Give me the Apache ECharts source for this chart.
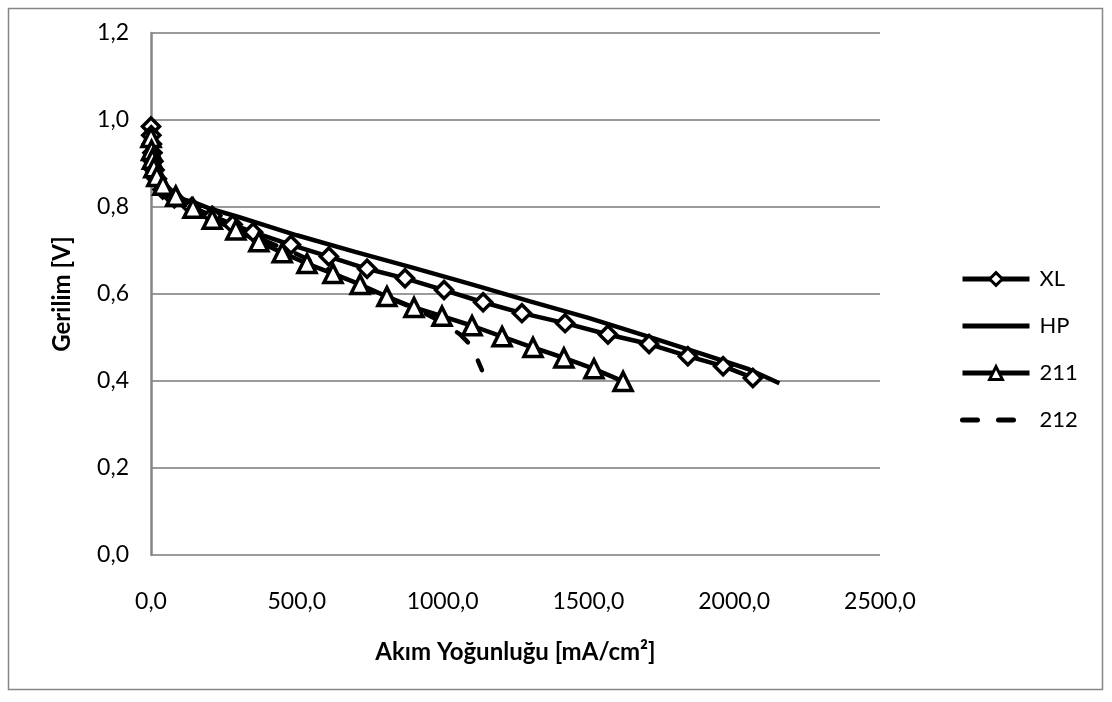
<!DOCTYPE html>
<html>
<head>
<meta charset="utf-8">
<script src="https://cdn.jsdelivr.net/npm/echarts@6/dist/echarts.min.js"></script>
<style>
    html, body { margin: 0; padding: 0; background: #fff; }
    #chart { width: 1112px; height: 702px; }
</style>
</head>
<body>
<div id="chart"></div>
<script>
/* polarizasyon egrileri - veriler */
var seriesNames = ['XL', 'HP', '211', '212'];

var xlCurrent = [0, 1, 3, 5, 8, 12, 20, 40, 80, 140, 210, 280, 350, 480, 610, 741, 871, 1005, 1139, 1272, 1420, 1567, 1708, 1841, 1962, 2064];
var xlVoltage = [0.985, 0.965, 0.945, 0.925, 0.905, 0.885, 0.865, 0.84, 0.82, 0.80, 0.78, 0.76, 0.742, 0.713, 0.686, 0.658, 0.636, 0.609, 0.581, 0.556, 0.533, 0.507, 0.485, 0.457, 0.434, 0.407];

var hpCurrent = [0, 2, 5, 10, 20, 40, 70, 100, 150, 200, 300, 400, 500, 700, 900, 1100, 1300, 1500, 1700, 1900, 2050, 2155];
var hpVoltage = [0.985, 0.95, 0.92, 0.89, 0.865, 0.845, 0.83, 0.82, 0.81, 0.797, 0.777, 0.756, 0.735, 0.697, 0.66, 0.622, 0.583, 0.545, 0.503, 0.46, 0.427, 0.395];

var c211Current = [0, 2, 5, 10, 20, 41, 85, 144, 210, 291, 370, 450, 535, 624, 717, 809, 902, 998, 1101, 1204, 1310, 1416, 1519, 1619];
var c211Voltage = [0.96, 0.93, 0.91, 0.89, 0.87, 0.85, 0.825, 0.797, 0.772, 0.747, 0.72, 0.695, 0.67, 0.647, 0.622, 0.594, 0.569, 0.549, 0.527, 0.502, 0.477, 0.453, 0.428, 0.399];

var c212Current = [0, 5, 10, 20, 50, 100, 200, 300, 400, 500, 600, 690, 800, 900, 1000, 1060, 1100, 1135];
var c212Voltage = [0.965, 0.915, 0.89, 0.865, 0.835, 0.815, 0.78, 0.75, 0.72, 0.692, 0.66, 0.622, 0.595, 0.568, 0.535, 0.507, 0.48, 0.425];

var xTicks = [0, 500, 1000, 1500, 2000, 2500];
var yTicks = [0, 0.2, 0.4, 0.6, 0.8, 1.0, 1.2];

var ChartOper = function () {

    var toPairs = function (xs, ys) {
        var out = [];
        for (var i = 0; i < xs.length; i++) {
            out.push([xs[i], ys[i]]);
        }
        return out;
    };

    var commaFmt = function (v) {
        return v.toFixed(1).replace('.', ',');
    };

    var lineSeries = function (name, data, symbol, dashed) {
        return {
            name: name,
            type: 'line',
            data: data,
            symbol: symbol,
            symbolSize: symbol === 'triangle' ? 18 : 17,
            showAllSymbol: true,
            smooth: false,
            lineStyle: {
                color: '#000',
                width: 4.5,
                type: dashed ? [15, 21] : 'solid',
                dashOffset: dashed ? 12 : 0,
                cap: dashed ? 'round' : 'butt'
            },
            itemStyle: {
                color: '#fff',
                borderColor: '#000',
                borderWidth: 3.5
            },
            emphasis: { disabled: true },
            animation: false
        };
    };

    // legende: HP ve 212 sadece cizgi
    var legendData = function () {
        var out = [];
        for (var i = 0; i < seriesNames.length; i++) {
            var item = { name: seriesNames[i] };
            if (seriesNames[i] === 'HP' || seriesNames[i] === '212') {
                item.itemStyle = { opacity: 0 };
            }
            out.push(item);
        }
        return out;
    };

    var getOption = function () {
        return {
            animation: false,
            textStyle: { fontFamily: 'Lato', color: '#000' },
            graphic: [{
                type: 'rect',
                shape: { x: 8.5, y: 8.5, width: 1094, height: 681 },
                style: { fill: 'none', stroke: '#868686', lineWidth: 1.5 },
                silent: true
            }],
            grid: {
                left: 151,
                right: 232,
                top: 33,
                bottom: 147
            },
            legend: {
                orient: 'vertical',
                left: 960,
                top: 268,
                padding: 0,
                itemWidth: 67,
                itemHeight: 16,
                itemGap: 25,
                lineStyle: { width: 5, dashOffset: 0 },
                itemStyle: { borderWidth: 3 },
                textStyle: { fontFamily: 'Lato', fontSize: 22, color: '#000', padding: [0, 0, 0, 5] },
                data: legendData()
            },
            xAxis: {
                type: 'value',
                min: xTicks[0],
                max: xTicks[xTicks.length - 1],
                interval: 500,
                name: 'Akım Yoğunluğu [mA/cm²]',
                nameLocation: 'middle',
                nameGap: 85,
                nameTextStyle: { fontFamily: 'Lato', fontSize: 24, fontWeight: 'bold', color: '#000' },
                axisLine: { show: false },
                axisTick: { show: false },
                axisLabel: {
                    margin: 35,
                    fontSize: 23,
                    color: '#000',
                    formatter: commaFmt
                },
                splitLine: { show: false }
            },
            yAxis: {
                type: 'value',
                min: yTicks[0],
                max: yTicks[yTicks.length - 1],
                interval: 0.2,
                name: 'Gerilim [V]',
                nameLocation: 'middle',
                nameGap: 77,
                nameTextStyle: { fontFamily: 'Lato', fontSize: 24, fontWeight: 'bold', color: '#000' },
                axisLine: { show: true, lineStyle: { color: '#868686', width: 2.5 } },
                axisTick: { show: false },
                axisLabel: {
                    margin: 22,
                    fontSize: 23,
                    color: '#000',
                    formatter: commaFmt
                },
                splitLine: { show: true, lineStyle: { color: '#9a9a9a', width: 2 } }
            },
            series: [
                lineSeries('XL', toPairs(xlCurrent, xlVoltage), 'diamond', false),
                lineSeries('HP', toPairs(hpCurrent, hpVoltage), 'none', false),
                lineSeries('211', toPairs(c211Current, c211Voltage), 'triangle', false),
                lineSeries('212', toPairs(c212Current, c212Voltage), 'none', true)
            ]
        };
    };

    var loadChart = function (domId) {
        var myChart = echarts.init(document.getElementById(domId), null, { renderer: 'canvas' });
        myChart.setOption(getOption());
    };

    return {
        loadChart: function (domId) {
            loadChart(domId);
        }
    };
}();

ChartOper.loadChart('chart');
</script>
</body>
</html>
